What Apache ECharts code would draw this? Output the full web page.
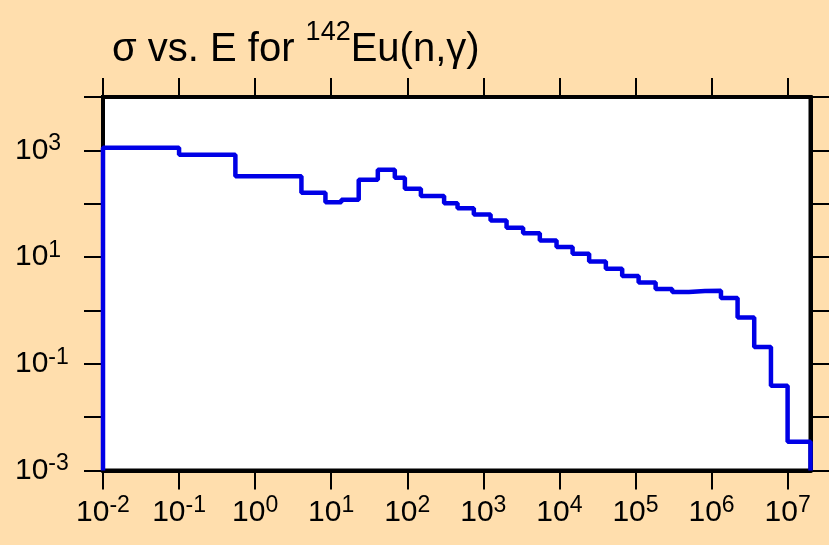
<!DOCTYPE html>
<html><head><meta charset="utf-8">
<script src="https://cdn.jsdelivr.net/npm/echarts@6/dist/echarts.min.js"></script>
<style>html,body{margin:0;padding:0;background:#FFDEAD}#c{width:829px;height:545px}</style>
</head><body><div id="c"></div>
<script>
// Energy bin boundaries (eV) and group cross sections (barns)
const binEdges = [0.01, 0.1, 0.55, 4.06, 8.4, 13.6, 23, 41, 68.6, 93, 151, 305, 458, 750, 1245, 2020, 3335, 5530, 9170, 14900, 24600, 40800, 66900, 1.1e5, 1.84e5, 3.04e5, 5.04e5, 8.18e5, 1.33e6, 2.2e6, 3.64e6, 6.04e6, 1e7, 2e7];
const sigma = [1120, 824, 327, 160, 107, 119, 281, 432, 306, 190, 139, 102, 82.6, 63, 48.6, 35.5, 28.1, 20.5, 15.4, 11.6, 8.3, 6.07, 4.41, 3.32, 2.52, 2.21, 2.31, 2.35, 1.71, 0.734, 0.207, 0.0386, 0.00346];
const xTickValues = [1e-2, 1e-1, 1e0, 1e1, 1e2, 1e3, 1e4, 1e5, 1e6, 1e7];
const yTickValues = [1e-3, 1e-2, 1e-1, 1e0, 1e1, 1e2, 1e3, 1e4];
const yLabelValues = [1e-3, 1e-1, 1e1, 1e3];
const titleParts = ['σ vs. E for ', '142', 'Eu(n,γ)'];

const yMin = 1e-3, yMax = 1e4, xMin = 1e-2, xMax = 2e7;
const data = [[binEdges[0], yMin]];
for (let i = 0; i < sigma.length; i++) data.push([binEdges[i], sigma[i]]);
data.push([binEdges[binEdges.length - 1], sigma[sigma.length - 1]]);
data.push([binEdges[binEdges.length - 1], yMin]);

const FONT = '"Liberation Sans", Arial, Helvetica, sans-serif';
function supLabel(v) {
  const e = Math.round(Math.log10(v));
  return '{b|10}{s|' + e + '}';
}
const labelRich = {
  b: { fontFamily: FONT, fontSize: 30, lineHeight: 36, color: '#000' },
  s: { fontFamily: FONT, fontSize: 23, lineHeight: 22, verticalAlign: 'top', color: '#000' }
};
const tickStyle = { show: true, inside: false, length: 19, lineStyle: { color: '#000', width: 2 } };
const lineAx = { show: true, onZero: false, lineStyle: { color: '#000', width: 4 } };

const chart = echarts.init(document.getElementById('c'), null, { renderer: 'canvas' });
chart.setOption({
  backgroundColor: '#FFDEAD',
  animation: false,
  title: {
    text: '{b|' + titleParts[0] + '}{s|' + titleParts[1] + '}{b|' + titleParts[2] + '}',
    left: 107, top: 14,
    textStyle: {
      fontWeight: 'normal',
      rich: {
        b: { fontFamily: FONT, fontSize: 40, fontWeight: 'normal', lineHeight: 62, color: '#000' },
        s: { fontFamily: FONT, fontSize: 27, fontWeight: 'normal', lineHeight: 12, verticalAlign: 'top', color: '#000' }
      }
    }
  },
  grid: { left: 103, right: 18.5, top: 97, bottom: 74.5, show: true, backgroundColor: '#fff', borderColor: '#000', borderWidth: 4 },
  xAxis: [{
    type: 'log', logBase: 10, min: xMin, max: xMax, position: 'bottom',
    axisLine: lineAx,
    axisTick: Object.assign({ customValues: xTickValues }, tickStyle),
    axisLabel: { show: true, margin: 24, customValues: xTickValues, formatter: supLabel, rich: labelRich },
    splitLine: { show: false }, minorTick: { show: false }
  }, {
    type: 'log', logBase: 10, min: xMin, max: xMax, position: 'top',
    axisLine: lineAx,
    axisTick: Object.assign({ customValues: xTickValues }, tickStyle),
    axisLabel: { show: false },
    splitLine: { show: false }, minorTick: { show: false }
  }],
  yAxis: [{
    type: 'log', logBase: 10, min: yMin, max: yMax, position: 'left',
    axisLine: lineAx,
    axisTick: Object.assign({ customValues: yTickValues }, tickStyle),
    axisLabel: { show: true, margin: 88, align: 'left', customValues: yLabelValues, formatter: supLabel, rich: labelRich },
    splitLine: { show: false }, minorTick: { show: false }
  }, {
    type: 'log', logBase: 10, min: yMin, max: yMax, position: 'right',
    axisLine: lineAx,
    axisTick: Object.assign({ customValues: yTickValues }, tickStyle),
    axisLabel: { show: false },
    splitLine: { show: false }, minorTick: { show: false }
  }],
  series: [{
    type: 'line', step: 'end', xAxisIndex: 0, yAxisIndex: 0,
    data: data, symbol: 'none', showSymbol: false,
    lineStyle: { color: '#0000e6', width: 4.5 }
  }]
});
</script></body></html>
